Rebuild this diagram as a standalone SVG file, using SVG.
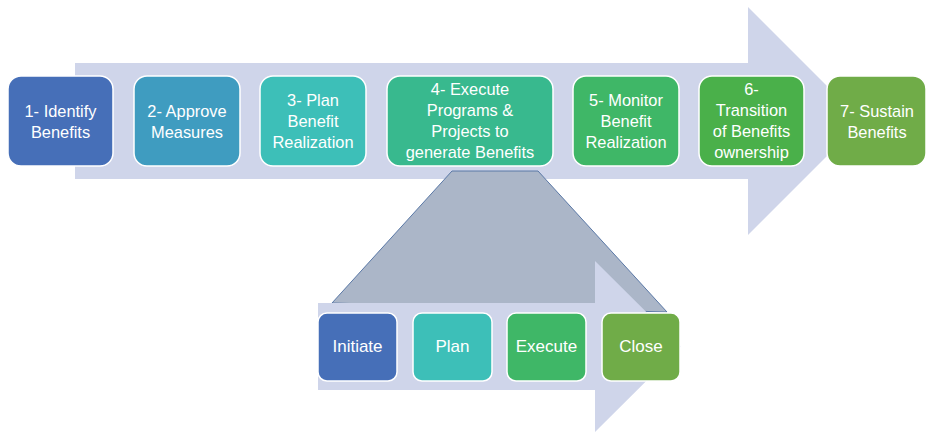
<svg xmlns="http://www.w3.org/2000/svg" width="927" height="433" viewBox="0 0 927 433">
<style>
.bg{fill:#cfd5ea;stroke:none}
.box{stroke:#ffffff;stroke-width:1.5}
.t{font-family:"Liberation Sans",Arial,sans-serif;font-size:16.4px;fill:#ffffff;text-anchor:middle}
.ts{font-family:"Liberation Sans",Arial,sans-serif;font-size:17px;fill:#ffffff;text-anchor:middle}
.c1{fill:#466fb8}.c2{fill:#3f9cc0}.c3{fill:#3dbfb8}.c4{fill:#38b98e}.c5{fill:#3fb767}.c6{fill:#4ab04a}.c7{fill:#70ac48}
</style>
<g id="arrows">
<path class="bg" d="M75,63 H748 V7 L862,121 L748,235 V179 H75 Z"/>
</g>
<g id="connectors">
<path d="M452,171 H538 L667,312 L332,303 Z" fill="#abb6c8" stroke="#5a78a6" stroke-width="1"/>
</g>
<g id="arrows-lower">
<path class="bg" d="M318,303 H595 V261 L681,346.5 L595,432 V390 H318 Z"/>
</g>
<g id="n1"><rect class="box c1" x="8" y="76" width="105" height="90" rx="13"/>
<text class="t" x="60.5" y="117">1- Identify</text><text class="t" x="60.5" y="138">Benefits</text></g>
<g id="n2"><rect class="box c2" x="134" y="76" width="106" height="90" rx="13"/>
<text class="t" x="187" y="117">2- Approve</text><text class="t" x="187" y="138">Measures</text></g>
<g id="n3"><rect class="box c3" x="260" y="76" width="106" height="90" rx="13"/>
<text class="t" x="313" y="106">3- Plan</text><text class="t" x="313" y="127">Benefit</text><text class="t" x="313" y="148">Realization</text></g>
<g id="n4"><rect class="box c4" x="387" y="76" width="166" height="90" rx="13"/>
<text class="t" x="470" y="95">4- Execute</text><text class="t" x="470" y="116">Programs &amp;</text><text class="t" x="470" y="137">Projects to</text><text class="t" x="470" y="158">generate Benefits</text></g>
<g id="n5"><rect class="box c5" x="573" y="76" width="106" height="90" rx="13"/>
<text class="t" x="626" y="106">5- Monitor</text><text class="t" x="626" y="127">Benefit</text><text class="t" x="626" y="148">Realization</text></g>
<g id="n6"><rect class="box c6" x="699" y="76" width="105" height="90" rx="13"/>
<text class="t" x="751.5" y="95">6-</text><text class="t" x="751.5" y="116">Transition</text><text class="t" x="751.5" y="137">of Benefits</text><text class="t" x="751.5" y="158">ownership</text></g>
<g id="n7"><rect class="box c7" x="827" y="76" width="99" height="90" rx="13"/>
<text class="t" x="877" y="117">7- Sustain</text><text class="t" x="877" y="138">Benefits</text></g>
<g id="s1"><rect class="box c1" x="318" y="313" width="79" height="68" rx="9"/>
<text class="ts" x="357.5" y="352">Initiate</text></g>
<g id="s2"><rect class="box c3" x="413" y="313" width="79" height="68" rx="9"/>
<text class="ts" x="452.5" y="352">Plan</text></g>
<g id="s3"><rect class="box c5" x="507" y="313" width="79" height="68" rx="9"/>
<text class="ts" x="546.5" y="352">Execute</text></g>
<g id="s4"><rect class="box c7" x="602" y="313" width="78" height="68" rx="9"/>
<text class="ts" x="641" y="352">Close</text></g>
</svg>
